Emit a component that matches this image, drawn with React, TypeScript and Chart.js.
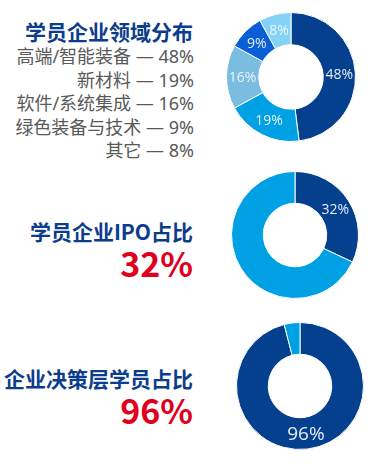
import React, { useEffect, useRef } from "react";
import { Chart, registerables } from "chart.js";

Chart.register(...registerables);

// ---- data ----
const domainLabels = ["高端/智能装备", "新材料", "软件/系统集成", "绿色装备与技术", "其它"];
const domainValues = [48, 19, 16, 9, 8];
const domainColors = ["#05408f", "#00a1e4", "#7abde0", "#0a5fd7", "#84d2f6"];

const ipoLabels = ["IPO企业", "其他"];
const ipoValues = [32, 68];
const ipoColors = ["#05408f", "#00a1e4"];

const decisionLabels = ["决策层", "其他"];
const decisionValues = [96, 4];
const decisionColors = ["#05408f", "#00a1e4"];

const titles = ["学员企业领域分布", "学员企业IPO占比", "企业决策层学员占比"];

const FONT = '"Noto Sans CJK SC", "Noto Sans", sans-serif';
const LEGEND_FONT = '"Noto Sans", "Noto Sans CJK SC", sans-serif';

const sliceLabelPlugin = {
  id: "sliceLabels",
  afterDatasetsDraw(chart: any) {
    const opts = chart.options.plugins.sliceLabels || {};
    const show: boolean[] = opts.show || [];
    const size: number = opts.size || 13;
    const ctx = chart.ctx;
    const meta = chart.getDatasetMeta(0);
    const data = chart.data.datasets[0].data as number[];
    ctx.save();
    ctx.fillStyle = "rgba(240,245,252,0.95)";
    ctx.font = `${size}px "Open Sans", "Noto Sans", sans-serif`;
    ctx.textAlign = "center";
    ctx.textBaseline = "middle";
    meta.data.forEach((arc: any, i: number) => {
      if (!show[i]) return;
      const p = arc.tooltipPosition();
      ctx.fillText(`${data[i]}%`, p.x, p.y + 1);
    });
    ctx.restore();
  },
};

function Donut(props: {
  labels: string[];
  values: number[];
  colors: string[];
  show: boolean[];
  labelSize: number;
  size: number;
  left: number;
  top: number;
}) {
  const ref = useRef<HTMLCanvasElement>(null);
  useEffect(() => {
    if (!ref.current) return;
    const chart = new Chart(ref.current, {
      type: "doughnut",
      data: {
        labels: props.labels,
        datasets: [
          {
            data: props.values,
            backgroundColor: props.colors,
            borderColor: "#ffffff",
            borderWidth: 1,
            hoverOffset: 0,
          },
        ],
      },
      options: {
        responsive: false,
        animation: false,
        cutout: "50%",
        layout: { padding: 0 },
        plugins: {
          legend: { display: false },
          tooltip: { enabled: false },
          sliceLabels: { show: props.show, size: props.labelSize },
        } as any,
        events: [],
      },
      plugins: [sliceLabelPlugin],
    });
    return () => chart.destroy();
  }, []);
  return (
    <canvas
      ref={ref}
      width={props.size}
      height={props.size}
      style={{
        position: "absolute",
        left: props.left,
        top: props.top,
        width: props.size,
        height: props.size,
      }}
    />
  );
}

function Text(props: {
  text: string;
  center: number;
  size: number;
  color: string;
  bold?: boolean;
  right?: number;
  font?: string;
}) {
  return (
    <div
      style={{
        position: "absolute",
        right: 389 - (props.right ?? 193),
        top: props.center - props.size / 2,
        height: props.size,
        lineHeight: `${props.size}px`,
        fontSize: props.size,
        fontWeight: props.bold ? 700 : 400,
        color: props.color,
        fontFamily: props.font ?? FONT,
        whiteSpace: "pre",
        textAlign: "right",
      }}
    >
      {props.text}
    </div>
  );
}

export default function App() {
  const legendCenters = [56, 80, 103, 127, 150];
  return (
    <div
      style={{
        position: "absolute",
        left: 0,
        top: 0,
        width: 389,
        height: 466,
        background: "#ffffff",
        overflow: "hidden",
      }}
    >
      <Text text={titles[0]} center={31} size={21} color="#0c3d8d" bold />
      {domainLabels.map((l, i) => (
        <Text
          key={l}
          text={`${l} — ${domainValues[i]}%`}
          center={legendCenters[i]}
          size={18}
          color="#595959"
          right={194}
          font={LEGEND_FONT}
        />
      ))}
      <Text text={titles[1]} center={231} size={21} color="#0c3d8d" bold />
      <Text text={`${ipoValues[0]}%`} center={263} size={34} color="#e1001c" bold />
      <Text text={titles[2]} center={378} size={21} color="#0c3d8d" bold />
      <Text text={`${decisionValues[0]}%`} center={410} size={34} color="#e1001c" bold />

      <Donut
        labels={domainLabels}
        values={domainValues}
        colors={domainColors}
        show={[true, true, true, true, true]}
        labelSize={14}
        size={130}
        left={226}
        top={12}
      />
      <Donut
        labels={ipoLabels}
        values={ipoValues}
        colors={ipoColors}
        show={[true, false]}
        labelSize={14}
        size={128}
        left={231}
        top={171}
      />
      <Donut
        labels={decisionLabels}
        values={decisionValues}
        colors={decisionColors}
        show={[true, false]}
        labelSize={19}
        size={128}
        left={236}
        top={322}
      />
    </div>
  );
}
